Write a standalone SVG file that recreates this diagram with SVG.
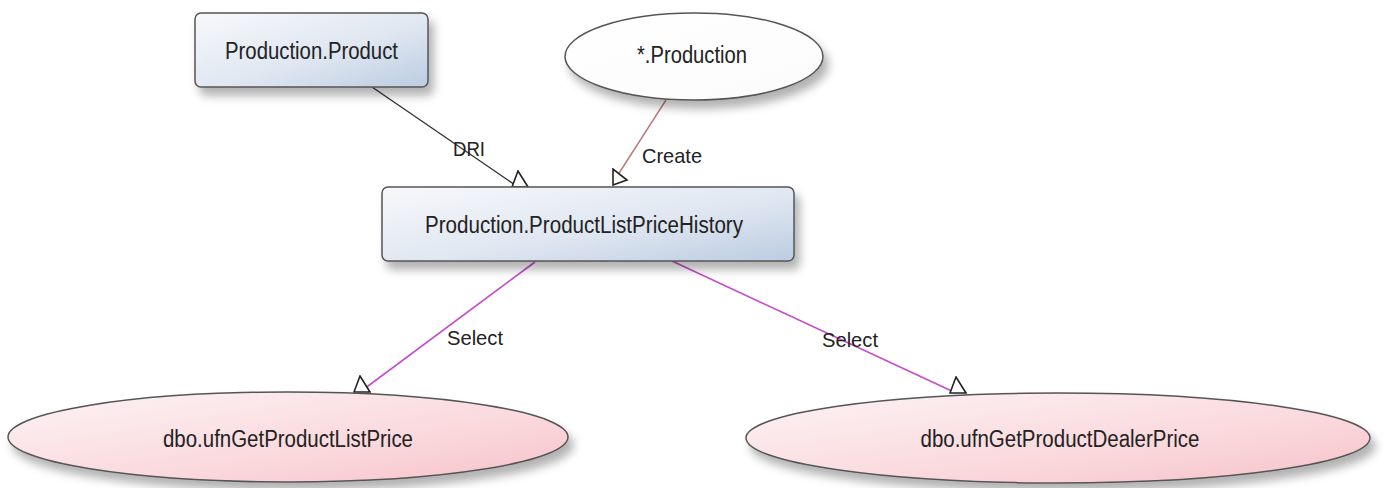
<svg xmlns="http://www.w3.org/2000/svg" width="1384" height="488" viewBox="0 0 1384 488">
<defs>
<linearGradient id="gBox" x1="0" y1="0" x2="1" y2="1">
<stop offset="0" stop-color="#f7f8fb"/>
<stop offset="0.55" stop-color="#e0e7f1"/>
<stop offset="1" stop-color="#bccce2"/>
</linearGradient>
<linearGradient id="gPink" x1="0" y1="0" x2="1" y2="1">
<stop offset="0" stop-color="#fdf3f4"/>
<stop offset="0.6" stop-color="#fad9dd"/>
<stop offset="1" stop-color="#f6c1c8"/>
</linearGradient>
<linearGradient id="gWhite" x1="0" y1="0" x2="1" y2="1">
<stop offset="0" stop-color="#ffffff"/>
<stop offset="1" stop-color="#fbfbfb"/>
</linearGradient>
<filter id="shadow" x="-10%" y="-20%" width="125%" height="170%">
<feDropShadow dx="5" dy="8" stdDeviation="5" flood-color="#000" flood-opacity="0.3"/>
</filter>
<marker id="headUp" markerUnits="userSpaceOnUse" viewBox="0 0 18 18" markerWidth="18" markerHeight="18" refX="7" refY="17" orient="0">
<path d="M1,17 L17,17 L7,1 Z" fill="#fff" stroke="#222" stroke-width="1.6"/>
</marker>
<marker id="headRight" markerUnits="userSpaceOnUse" viewBox="0 0 18 18" markerWidth="18" markerHeight="18" refX="2" refY="13" orient="0">
<path d="M1,1 L1,17 L15,12 Z" fill="#fff" stroke="#222" stroke-width="1.6"/>
</marker>
</defs>
<style>
.box{fill:url(#gBox);stroke:#555;stroke-width:1.5;filter:url(#shadow)}
.ell{stroke:#555;stroke-width:1.5;filter:url(#shadow)}
.lbl{font-family:"Liberation Sans",Arial,sans-serif;font-size:23px;fill:#222;text-anchor:middle}
.elbl{font-family:"Liberation Sans",Arial,sans-serif;font-size:21px;fill:#222}
.edge{fill:none}
</style>
<rect width="1384" height="488" fill="#fff"/>
<g id="connectors">
<line class="edge" x1="372" y1="87" x2="518" y2="187" stroke="#333" stroke-width="1.4" marker-end="url(#headUp)"/>
<line class="edge" x1="666" y1="100" x2="614" y2="181" stroke="#b87878" stroke-width="1.4" marker-end="url(#headRight)"/>
<line class="edge" x1="535" y1="262" x2="360" y2="392" stroke="#c64ccc" stroke-width="1.6" marker-end="url(#headUp)"/>
<line class="edge" x1="672" y1="261" x2="956" y2="393" stroke="#c64ccc" stroke-width="1.6" marker-end="url(#headUp)"/>
<text class="elbl" x="453" y="156" textLength="32" lengthAdjust="spacingAndGlyphs">DRI</text>
<text class="elbl" x="642" y="163" textLength="60" lengthAdjust="spacingAndGlyphs">Create</text>
<text class="elbl" x="447" y="345" textLength="56" lengthAdjust="spacingAndGlyphs">Select</text>
<text class="elbl" x="822" y="347" textLength="56" lengthAdjust="spacingAndGlyphs">Select</text>
</g>
<g id="production-product">
<rect class="box" x="195" y="13" width="233" height="74" rx="6"/>
<text class="lbl" x="311.5" y="59" textLength="173" lengthAdjust="spacingAndGlyphs">Production.Product</text>
</g>
<g id="star-production">
<ellipse class="ell" cx="694" cy="56.5" rx="129" ry="43.5" fill="url(#gWhite)"/>
<text class="lbl" x="692" y="63" textLength="110" lengthAdjust="spacingAndGlyphs">*.Production</text>
</g>
<g id="product-list-price-history">
<rect class="box" x="382" y="187" width="412" height="74" rx="6"/>
<text class="lbl" x="584" y="233" textLength="318" lengthAdjust="spacingAndGlyphs">Production.ProductListPriceHistory</text>
</g>
<g id="ufn-get-product-list-price">
<ellipse class="ell" cx="288" cy="437" rx="280" ry="45" fill="url(#gPink)"/>
<text class="lbl" x="288" y="447" textLength="250" lengthAdjust="spacingAndGlyphs">dbo.ufnGetProductListPrice</text>
</g>
<g id="ufn-get-product-dealer-price">
<ellipse class="ell" cx="1058" cy="438" rx="312" ry="45" fill="url(#gPink)"/>
<text class="lbl" x="1060" y="447" textLength="279" lengthAdjust="spacingAndGlyphs">dbo.ufnGetProductDealerPrice</text>
</g>
</svg>
